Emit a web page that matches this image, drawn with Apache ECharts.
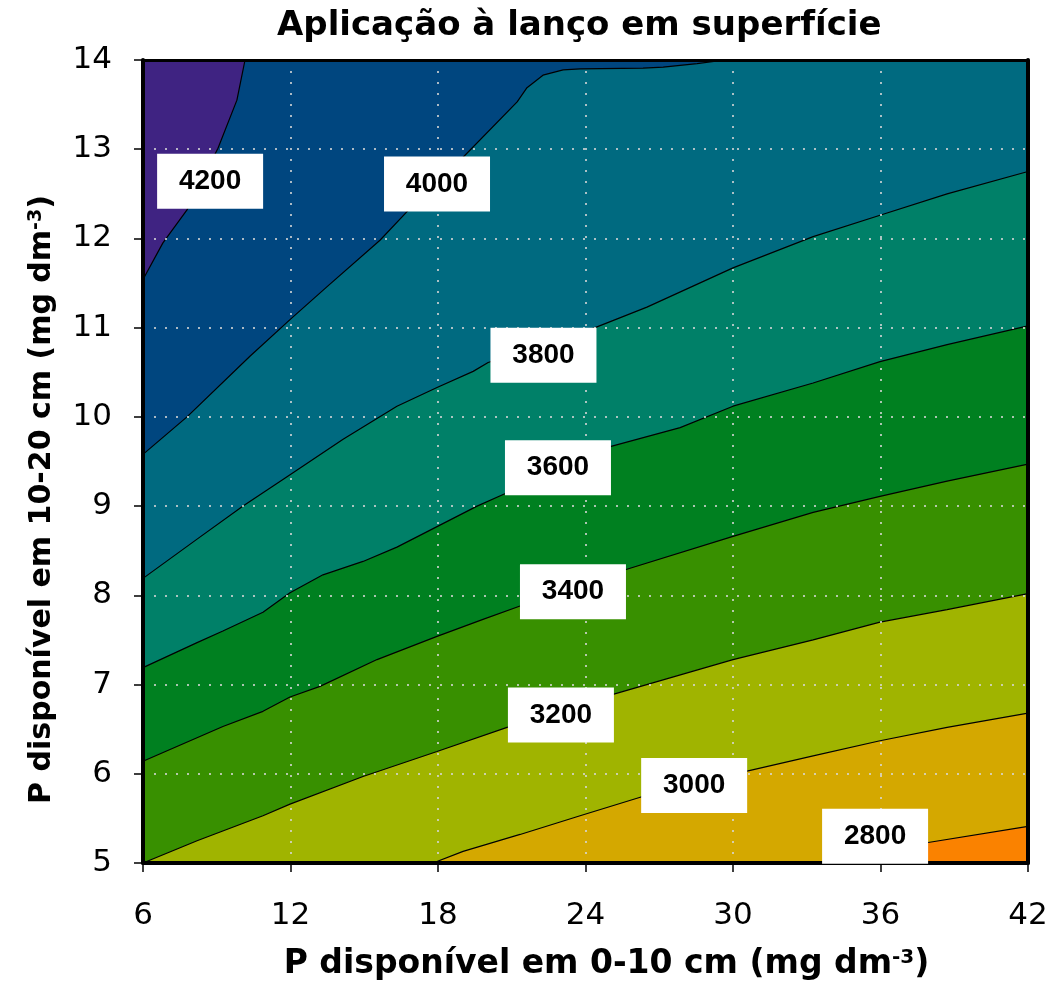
<!DOCTYPE html>
<html>
<head>
<meta charset="utf-8">
<script src="https://cdn.jsdelivr.net/npm/echarts@6/dist/echarts.min.js"></script>
<style>html,body{margin:0;padding:0;background:#fff}#c{width:1053px;height:986px}</style>
</head>
<body>
<div id="c"></div>
<script>
// ---- data ----
const titleText = 'Aplicação à lanço em superfície';
const xName = 'P disponível em 0-10 cm (mg dm';
const yName = 'P disponível em 10-20 cm (mg dm';
const xMin = 6, xMax = 42, xStep = 6;
const yMin = 5, yMax = 14, yStep = 1;

// contour lines (x, y) — value rises toward top-left
const c2800 = [[35.0,5.0],[36.5,5.13],[37.94,5.23],[42,5.41]];
const c3000 = [[17.8,5.0],[19.02,5.13],[21.34,5.32],[23.78,5.53],[26.26,5.74],[30.57,6.03],[33.26,6.2],[35.98,6.37],[38.71,6.52],[42,6.68]];
const c3200 = [[6,5.0],[8.2,5.25],[10.88,5.53],[11.98,5.66],[14.95,5.97],[17.96,6.25],[20.81,6.52],[25.12,6.89],[30,7.28],[33.26,7.5],[35.98,7.7],[38.71,7.84],[42,8.02]];
const c3400 = [[6,6.14],[9.25,6.53],[10.88,6.7],[11.98,6.86],[13.2,6.98],[15.52,7.28],[17.96,7.54],[19.83,7.73],[21.34,7.88],[25.65,8.29],[30,8.66],[33.26,8.93],[35.98,9.11],[38.71,9.28],[42,9.47]];
const c3600 = [[6,7.19],[8.2,7.47],[9.25,7.6],[10.88,7.81],[11.98,8.03],[13.32,8.23],[14.95,8.38],[16.33,8.54],[17.96,8.77],[19.59,9.0],[20.65,9.13],[25.04,9.67],[27.85,9.88],[30,10.12],[33.26,10.38],[35.98,10.62],[38.71,10.81],[42,11.02]];
const c3800 = [[6,8.19],[8.2,8.63],[10.07,9.0],[11.86,9.33],[14.14,9.75],[16.33,10.12],[17.96,10.33],[19.43,10.51],[20.04,10.61],[24.39,11.0],[26.5,11.23],[30,11.67],[33.26,12.02],[35.98,12.26],[38.71,12.5],[42,12.75]];
const c4000 = [[6,9.58],[7.79,10.0],[10.35,10.68],[11.98,11.09],[13.49,11.46],[15.64,11.98],[16.74,12.3],[19.02,12.91],[21.22,13.53],[21.62,13.69],[22.27,13.83],[23.09,13.89],[23.78,13.9],[26.34,13.91],[27.16,13.92],[28.54,13.96],[29.68,14.0]];
const c4200 = [[6,11.54],[6.81,11.95],[7.79,12.32],[9.05,13.01],[9.82,13.55],[10.15,14.0]];

const levels = [2800, 3000, 3200, 3400, 3600, 3800, 4000, 4200];
const contours = [c2800, c3000, c3200, c3400, c3600, c3800, c4000, c4200];

// contour labels: x, y, text
const labelX = [8.73, 17.96, 22.29, 22.88, 23.49, 23.0, 28.42, 35.78];
const labelY = [12.64, 12.61, 10.69, 9.43, 8.04, 6.66, 5.87, 5.30];
const labelText = ['4200', '4000', '3800', '3600', '3400', '3200', '3000', '2800'];

// ---- styles ----
const baseColor = '#fa8200';
const bandColors = ['#d4a800', '#a0b400', '#389000', '#008020', '#008068', '#006a80', '#00467f', '#3f2382'];

const chart = echarts.init(document.getElementById('c'), null, {renderer: 'canvas'});

const fillSeries = contours.map((pts, i) => {
  // lines that start on the bottom edge are closed along that edge for filling
  const data = pts[0][0] > xMin ? [[xMin, yMin]].concat(pts) : pts;
  return {
    type: 'line',
    name: String(levels[i]),
    data: data,
    showSymbol: false,
    symbol: 'none',
    smooth: false,
    z: 2 + i * 0.01,
    lineStyle: {color: '#000', width: 1.2},
    areaStyle: {origin: 'end', color: bandColors[i], opacity: 1},
    silent: true,
    clip: true
  };
});

const labelSeries = {
  type: 'scatter',
  z: 30,
  symbol: 'rect',
  symbolSize: [106, 55],
  itemStyle: {color: '#fff', opacity: 1},
  label: {
    show: true, position: 'inside', formatter: p => p.value[2],
    color: '#000', fontWeight: 'bold', fontSize: 28, fontFamily: 'Liberation Sans, Arial, sans-serif'
  },
  data: labelX.map((x, i) => [x, labelY[i], labelText[i]])
};

const wideFont = "'DejaVu Sans', sans-serif";
const gridLine = {show: true, lineStyle: {color: 'rgba(215,215,215,0.8)', type: [2, 9], width: 2}};

chart.setOption({
  animation: false,
  backgroundColor: '#fff',
  title: {
    text: titleText, left: 272, top: 4,
    textStyle: {fontFamily: wideFont, fontWeight: 'bold', fontSize: 34, color: '#000'}
  },
  grid: {left: 143, right: 25, top: 60, bottom: 122, show: true, backgroundColor: baseColor, borderWidth: 0},
  xAxis: [{
    type: 'value', min: xMin, max: xMax, interval: xStep, z: 10,
    axisLine: {show: true, onZero: false, lineStyle: {color: '#000', width: 4}},
    axisTick: {show: true, length: 9, lineStyle: {color: '#000', width: 1.5}},
    axisLabel: {margin: 37, fontSize: 31, color: '#000', fontFamily: wideFont},
    splitLine: gridLine,
    name: xName + '{sup|-3})',
    nameLocation: 'middle', nameGap: 85,
    nameTextStyle: {
      fontFamily: wideFont, fontWeight: 'bold', fontSize: 33, color: '#000',
      padding: [0, 0, 0, 42],
      rich: {sup: {fontFamily: wideFont, fontWeight: 'bold', fontSize: 20, color: '#000', verticalAlign: 'top', lineHeight: 33}}
    }
  }, {
    type: 'value', min: xMin, max: xMax, interval: xStep, position: 'top', z: 10,
    axisLine: {show: true, onZero: false, lineStyle: {color: '#000', width: 3}},
    axisTick: {show: false}, axisLabel: {show: false}, splitLine: {show: false}
  }],
  yAxis: [{
    type: 'value', min: yMin, max: yMax, interval: yStep, z: 10,
    axisLine: {show: true, onZero: false, lineStyle: {color: '#000', width: 4}},
    axisTick: {show: true, length: 9, lineStyle: {color: '#000', width: 1.5}},
    axisLabel: {margin: 31, fontSize: 31, color: '#000', fontFamily: wideFont},
    splitLine: gridLine,
    name: yName + '{sup|-3})',
    nameLocation: 'middle', nameGap: 86, nameRotate: 90,
    nameTextStyle: {
      fontFamily: wideFont, fontWeight: 'bold', fontSize: 30, color: '#000',
      padding: [0, 76, 0, 0],
      rich: {sup: {fontFamily: wideFont, fontWeight: 'bold', fontSize: 19, color: '#000', verticalAlign: 'top', lineHeight: 30}}
    }
  }, {
    type: 'value', min: yMin, max: yMax, interval: yStep, position: 'right', z: 10,
    axisLine: {show: true, onZero: false, lineStyle: {color: '#000', width: 4}},
    axisTick: {show: false}, axisLabel: {show: false}, splitLine: {show: false}
  }],
  series: fillSeries.concat([labelSeries])
});
</script>
</body>
</html>
